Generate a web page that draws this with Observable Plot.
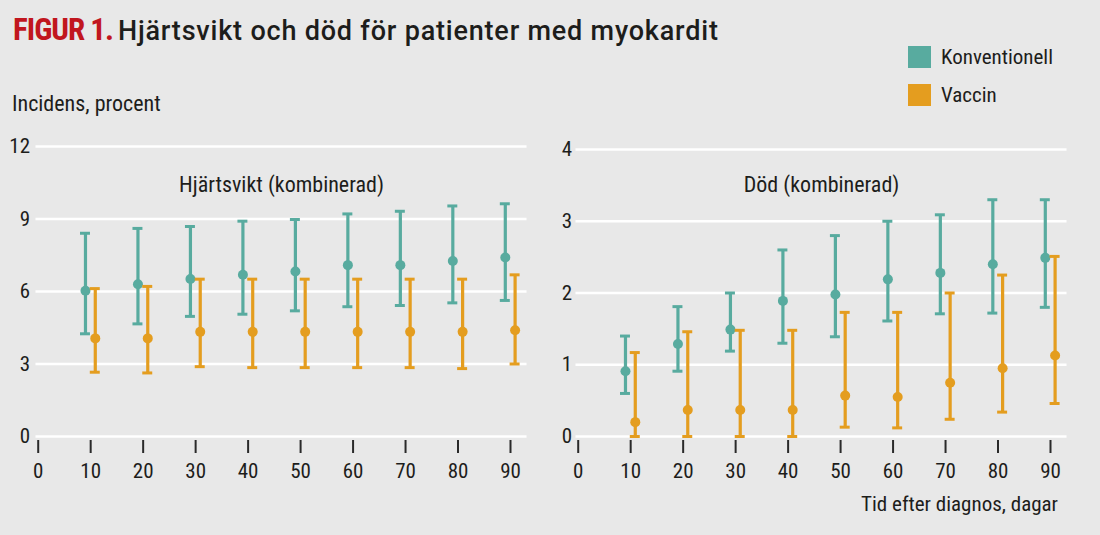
<!DOCTYPE html>
<html><head><meta charset="utf-8">
<script src="https://cdn.jsdelivr.net/npm/d3@7"></script>
<script src="https://cdn.jsdelivr.net/npm/@observablehq/plot@0.6"></script>
<style>
html,body{margin:0;padding:0;background:#e8e8e8;}
#wrap{position:relative;width:1100px;height:535px;background:#e8e8e8;overflow:hidden;
  font-family:"Roboto Condensed","Roboto",sans-serif;color:#1d1d1b;}
.abs{position:absolute;white-space:nowrap;line-height:1;}
#title{left:13px;top:14px;}
#title .fig{color:#c1161e;font-weight:bold;font-size:31px;letter-spacing:-1px;font-family:"Roboto Condensed",sans-serif;}
#title .txt{font-family:"Roboto",sans-serif;font-weight:500;font-size:27px;letter-spacing:0.8px;margin-left:5px;}
#ylab{left:12px;top:93px;font-size:22px;}
#xlab{right:42px;top:494px;font-size:21px;}
.leg{display:flex;align-items:center;font-size:21px;}
.leg span.sw{display:inline-block;width:23px;height:22px;margin-right:10px;}
#p1{left:0;top:130px;}
#p2{left:540px;top:130px;}
</style></head>
<body><div id="wrap">
<div id="title" class="abs"><span class="fig">FIGUR 1.</span><span class="txt">Hjärtsvikt och död för patienter med myokardit</span></div>
<div id="legend"></div>
<div id="ylab" class="abs">Incidens, procent</div>
<div id="xlab" class="abs">Tid efter diagnos, dagar</div>
<div id="p1" class="abs"></div>
<div id="p2" class="abs"></div>
</div>
<script>
// ---- data ----
const seriesNames = ["Konventionell", "Vaccin"];
const seriesColors = ["#58ab9f", "#e49d1f"];
const days = [10, 20, 30, 40, 50, 60, 70, 80, 90];
const xTicks = [0, 10, 20, 30, 40, 50, 60, 70, 80, 90];

const panelTitles = ["Hjärtsvikt (kombinerad)", "Död (kombinerad)"];
const hfTicks = [0, 3, 6, 9, 12];
const deathTicks = [0, 1, 2, 3, 4];

// Hjärtsvikt
const hfConv   = [6.03, 6.3, 6.52, 6.69, 6.83, 7.09, 7.09, 7.26, 7.41];
const hfConvLo = [4.25, 4.66, 4.97, 5.06, 5.2, 5.37, 5.42, 5.53, 5.63];
const hfConvHi = [8.41, 8.61, 8.69, 8.91, 8.98, 9.21, 9.32, 9.54, 9.63];
const hfVac    = [4.06, 4.06, 4.33, 4.33, 4.33, 4.33, 4.33, 4.33, 4.4];
const hfVacLo  = [2.66, 2.63, 2.89, 2.85, 2.85, 2.85, 2.85, 2.81, 3.0];
const hfVacHi  = [6.12, 6.21, 6.51, 6.51, 6.51, 6.51, 6.51, 6.51, 6.69];

// Död
const dConv    = [0.91, 1.29, 1.49, 1.89, 1.98, 2.19, 2.28, 2.4, 2.49];
const dConvLo  = [0.6, 0.91, 1.19, 1.3, 1.39, 1.61, 1.71, 1.72, 1.8];
const dConvHi  = [1.4, 1.81, 2.0, 2.6, 2.8, 3.0, 3.09, 3.3, 3.3];
const dVac     = [0.2, 0.37, 0.37, 0.37, 0.57, 0.55, 0.75, 0.95, 1.13];
const dVacLo   = [0, 0, 0, 0, 0.13, 0.12, 0.24, 0.34, 0.46];
const dVacHi   = [1.17, 1.46, 1.48, 1.48, 1.73, 1.73, 2.0, 2.25, 2.51];

// ---- build ----
const rowsOf = (name, v, lo, hi) => days.map((d, i) => ({series: name, x: d, y: v[i], lo: lo[i], hi: hi[i]}));
const FONT = '"Roboto Condensed","Roboto",sans-serif';

function panel({series, yTicks, title, yRange, tickPad}) {
  const offsets = [-5.2, 4.6];
  const marks = [
    Plot.ruleY(yTicks, {y: d => d, stroke: "#ffffff", strokeWidth: 2.6}),
    Plot.axisY(yTicks, {tickSize: 0, tickPadding: tickPad, label: null, fontSize: 21, tickFormat: d => String(d)}),
    Plot.axisX(xTicks, {tickSize: 13, dy: 4, tickPadding: 10, label: null, fontSize: 21, strokeWidth: 2, stroke: "#2a2a2a", tickFormat: d => String(d)}),
    Plot.text([title], {frameAnchor: "top", dy: 30, fontSize: 22, fill: "#1d1d1b"})
  ];
  series.forEach((rows, k) => {
    const c = seriesColors[k], dx = offsets[k];
    marks.push(
      Plot.ruleX(rows, {x: "x", y1: "lo", y2: "hi", stroke: c, strokeWidth: 3.2, dx}),
      Plot.ruleY(rows, {y: "hi", x1: d => d.x - 0.95, x2: d => d.x + 0.95, stroke: c, strokeWidth: 3, dx}),
      Plot.ruleY(rows, {y: "lo", x1: d => d.x - 0.95, x2: d => d.x + 0.95, stroke: c, strokeWidth: 3, dx}),
      Plot.dot(rows, {x: "x", y: "y", r: 5, fill: c, dx})
    );
  });
  return Plot.plot({
    width: 540, height: 360, marginTop: 16, marginBottom: 54, marginLeft: 35.5, marginRight: 13.5,
    style: {background: "transparent", fontFamily: FONT, fontSize: "21px", color: "#1d1d1b"},
    x: {domain: [0, 90], range: [37.7, 510], axis: null},
    y: {domain: [0, yTicks[yTicks.length - 1]], range: yRange, axis: null},
    marks
  });
}

document.getElementById("p1").appendChild(panel({
  series: [rowsOf(seriesNames[0], hfConv, hfConvLo, hfConvHi), rowsOf(seriesNames[1], hfVac, hfVacLo, hfVacHi)],
  yTicks: hfTicks, title: panelTitles[0], yRange: [306, 16], tickPad: 6
}));
document.getElementById("p2").appendChild(panel({
  series: [rowsOf(seriesNames[0], dConv, dConvLo, dConvHi), rowsOf(seriesNames[1], dVac, dVacLo, dVacHi)],
  yTicks: deathTicks, title: panelTitles[1], yRange: [306, 19], tickPad: 4
}));

// legend
const leg = document.getElementById("legend");
seriesNames.forEach((n, i) => {
  const d = document.createElement("div");
  d.className = "abs leg";
  d.style.left = "908px";
  d.style.top = (46 + i * 38) + "px";
  d.innerHTML = `<span class="sw" style="background:${seriesColors[i]}"></span><span>${n}</span>`;
  leg.appendChild(d);
});
</script>
</body></html>
